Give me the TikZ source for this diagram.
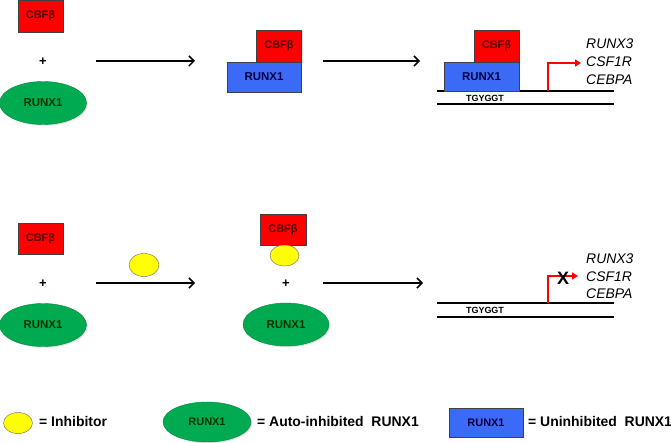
\documentclass[tikz,border=0pt]{standalone}
\usepackage{fontspec}
\setmainfont{Liberation Sans}
\usepackage{xcolor}
\usepackage{tikz}
\usetikzlibrary{arrows.meta,positioning,shapes.geometric,shadows}

\definecolor{cbfred}{RGB}{255,0,0}
\definecolor{runxblue}{RGB}{59,107,246}
\definecolor{runxgreen}{RGB}{0,170,80}
\definecolor{inhyellow}{RGB}{255,255,0}

\begin{document}
\begin{tikzpicture}[
  x=1bp,y=-1bp,
  shade/.style={drop shadow={opacity=0.25,shadow xshift=1.2bp,shadow yshift=-1.2bp}},
  cbf/.style={draw=black!75,fill=cbfred,shade,minimum width=45bp,minimum height=32bp,inner sep=0pt,
    font=\bfseries\fontsize{11}{12}\selectfont,text=black!70!red},
  runxbox/.style={draw=black!75,fill=runxblue,shade,minimum width=75bp,minimum height=30bp,inner sep=0pt,
    font=\bfseries\fontsize{11.5}{12}\selectfont,text=black!75!blue},
  runxoval/.style={ellipse,draw=runxgreen!80!black,fill=runxgreen,shade,minimum width=87bp,minimum height=43bp,inner sep=0pt,
    font=\bfseries\fontsize{11.5}{12}\selectfont,text=black!80!green},
  inh/.style={ellipse,draw=black!60,fill=inhyellow,minimum width=29bp,minimum height=22bp,inner sep=0pt},
  plus/.style={font=\bfseries\fontsize{13}{13}\selectfont},
  gene/.style={anchor=west,font=\itshape\fontsize{14}{16}\selectfont,inner sep=0pt},
  site/.style={font=\bfseries\fontsize{9}{9}\selectfont,inner sep=0pt},
  legtext/.style={anchor=west,font=\bfseries\fontsize{14}{16}\selectfont,inner sep=0pt},
  react/.style={-{Straight Barb[length=5bp,width=10bp]},line width=1.5bp},
  dna/.style={line width=1.5bp},
  tss/.style={-{Triangle[length=6bp,width=7bp]},line width=2bp,red}
]
  \useasboundingbox (0,0) rectangle (671,443);

  % top row
  \node[cbf] (cbfA) at (40.5,16) {CBFβ};
  \node[plus] (plusA) at (43,62) {+};
  \node[runxoval] (runxA) at (43,103) {RUNX1};
  \coordinate (a1s) at (96,61);
  \coordinate (a1e) at (195,61);
  \draw[react] (a1s) -- (a1e);

  \node[runxbox,minimum width=74bp] (runxB) at (264,77) {RUNX1};
  \node[cbf] (cbfB) at (279,46) {CBFβ};
  \coordinate (a2s) at (323,61);
  \coordinate (a2e) at (420,61);
  \draw[react] (a2s) -- (a2e);

  \draw[dna] (437,91) -- (614,91);
  \draw[dna] (437,104) -- (614,104);
  \node[runxbox,minimum height=29bp] (runxC) at (481.5,76.5) {RUNX1};
  \node[cbf] (cbfC) at (496.5,46) {CBFβ};
  \node[site] (siteC) at (485,98) {TGYGGT};
  \coordinate (tssC) at (548,91);
  \coordinate (tssCe) at (581,63);
  \draw[tss] (tssC) |- (tssCe);
  \node[gene] (g1C) at (586,44) {RUNX3};
  \node[gene] (g2C) at (586,62) {CSF1R};
  \node[gene] (g3C) at (586,80) {CEBPA};

  % bottom row
  \node[cbf,minimum height=31bp] (cbfD) at (40.5,238.5) {CBFβ};
  \node[plus] (plusD) at (43,284) {+};
  \node[runxoval] (runxD) at (43,325) {RUNX1};
  \node[inh,minimum width=30bp,minimum height=23bp] (inhD) at (144,265) {};
  \coordinate (a3s) at (96,283);
  \coordinate (a3e) at (195,283);
  \draw[react] (a3s) -- (a3e);

  \node[cbf,minimum width=46bp,minimum height=31bp] (cbfE) at (283,229.5) {CBFβ};
  \node[inh,minimum height=21bp] (inhE) at (284.5,255.5) {};
  \node[plus] (plusE) at (286,284) {+};
  \node[runxoval,minimum width=86bp] (runxE) at (286,324.5) {RUNX1};
  \coordinate (a4s) at (323,283);
  \coordinate (a4e) at (423,283);
  \draw[react] (a4s) -- (a4e);

  \draw[dna] (437,303) -- (614,303);
  \draw[dna] (437,317) -- (614,317);
  \node[site] (siteF) at (485,310) {TGYGGT};
  \coordinate (tssF) at (548,303);
  \coordinate (tssFe) at (578,276);
  \draw[tss] (tssF) |- (tssFe);
  \node[font=\bfseries\fontsize{18}{18}\selectfont,inner sep=0pt] (block) at (563,278) {X};
  \node[gene] (g1F) at (586,259) {RUNX3};
  \node[gene] (g2F) at (586,277) {CSF1R};
  \node[gene] (g3F) at (586,294) {CEBPA};

  % legend
  \node[inh,minimum height=21bp] (inhL) at (18,423) {};
  \node[legtext] (inhT) at (39,422) {= Inhibitor};
  \node[runxoval,minimum width=88bp,minimum height=40bp,font=\bfseries\fontsize{11}{12}\selectfont] (runxL) at (207,422) {RUNX1};
  \node[legtext] (runxLT) at (257,422) {= Auto-inhibited\ \ RUNX1};
  \node[runxbox,minimum width=74bp,minimum height=29bp,font=\bfseries\fontsize{11}{12}\selectfont] (boxL) at (486,422.5) {RUNX1};
  \node[legtext] (boxLT) at (528,422) {= Uninhibited\ \ RUNX1};
\end{tikzpicture}
\end{document}
